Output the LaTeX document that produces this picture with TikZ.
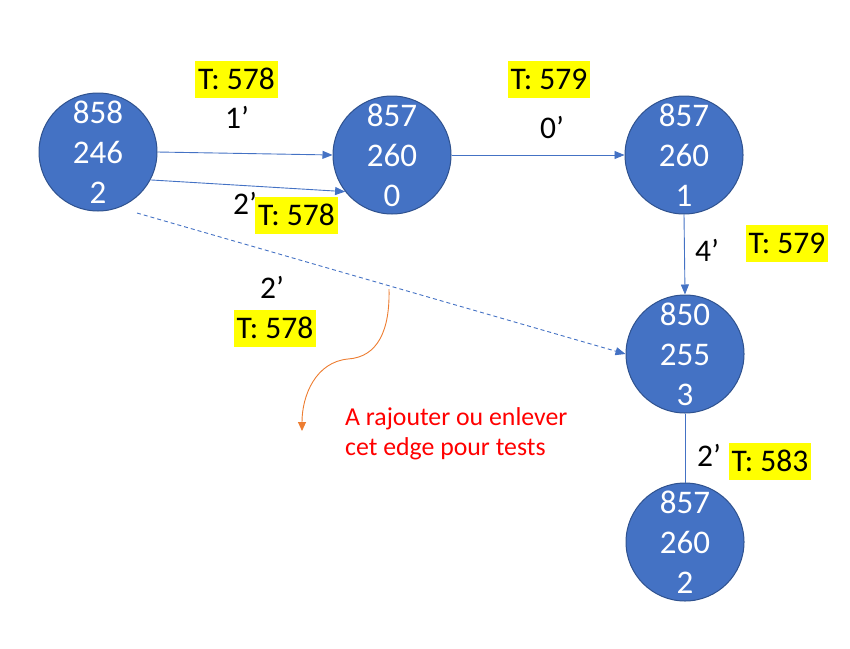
\documentclass[tikz,border=0pt]{standalone}
\usepackage{fontspec}
\setmainfont{Carlito}
\usetikzlibrary{arrows.meta}
\definecolor{nodeblue}{HTML}{4472C4}
\definecolor{nodeborder}{HTML}{2F528F}
\definecolor{edgeblue}{HTML}{4472C4}
\definecolor{orangeline}{HTML}{ED7D31}
\definecolor{hl}{HTML}{FFFF00}
\definecolor{redtext}{HTML}{FF0000}
\tikzset{
  state/.style={circle, fill=nodeblue, draw=nodeborder, line width=1pt, minimum size=118pt, inner sep=0pt,
    text=white, align=center, font=\fontsize{33}{40}\selectfont},
  edge/.style={draw=edgeblue, line width=0.9pt, -{Triangle[length=10pt,width=8pt]}},
  plain/.style={draw=edgeblue, line width=0.9pt},
  tbox/.style={fill=hl, inner xsep=3pt, inner ysep=0pt, minimum height=37pt, font=\fontsize{31.5}{36}\selectfont, text=black},
  prime/.style={font=\fontsize{31.5}{36}\selectfont, text=black, inner sep=0pt},
  note/.style={font=\fontsize{25.8}{30}\selectfont, text=redtext, align=left, inner sep=0pt, anchor=north west}
}
\begin{document}
\begin{tikzpicture}[x=1pt,y=-1pt]
\useasboundingbox (0,0) rectangle (850,648);
% nodes
\node[state] (A) at (98,152) {858\\246\\2};
\node[state] (B) at (392,155) {857\\260\\0};
\node[state] (C) at (684,155) {857\\260\\1};
\node[state] (D) at (685,354) {850\\255\\3};
\node[state] (E) at (685,542) {857\\260\\2};
% edges
\draw[edge] (A.east) -- (B.west);
\draw[edge] (A.-28) -- (B.218);
\coordinate (ds) at (137,213);
\draw[edge, dashed, dash pattern=on 4pt off 3pt] (ds) -- (D.west);
\draw[edge] (B.east) -- (C.west);
\draw[edge] (C.south) -- (D.north);
\draw[plain] (D.south) -- (E.north);
% orange arrow
\coordinate (m) at (389,289);
\coordinate (tip) at (302,431);
\draw[orangeline, line width=0.9pt, -{Triangle[length=9pt,width=8pt]}] (m) .. controls (390,330) and (378,357) .. (348,359) .. controls (316,362) and (302,395) .. (tip);
% labels
\node[prime] (p1) at (237,117) {1’};
\node[tbox] (t1) at (236.5,79) {T: 578};
\node[prime] (p2) at (245,203) {2’};
\node[tbox] (t2) at (296.5,215) {T: 578};
\node[tbox] (t3) at (549,79) {T: 579};
\node[prime] (p3) at (552,127) {0’};
\node[prime] (p4) at (707,250) {4’};
\node[tbox] (t4) at (787,243) {T: 579};
\node[prime] (p5) at (272,287) {2’};
\node[tbox] (t5) at (275,328) {T: 578};
\node[prime] (p6) at (709,455) {2’};
\node[tbox] (t6) at (770,461) {T: 583};
\node[note] (n) at (345,407) {A rajouter ou enlever\\cet edge pour tests};
\end{tikzpicture}
\end{document}
